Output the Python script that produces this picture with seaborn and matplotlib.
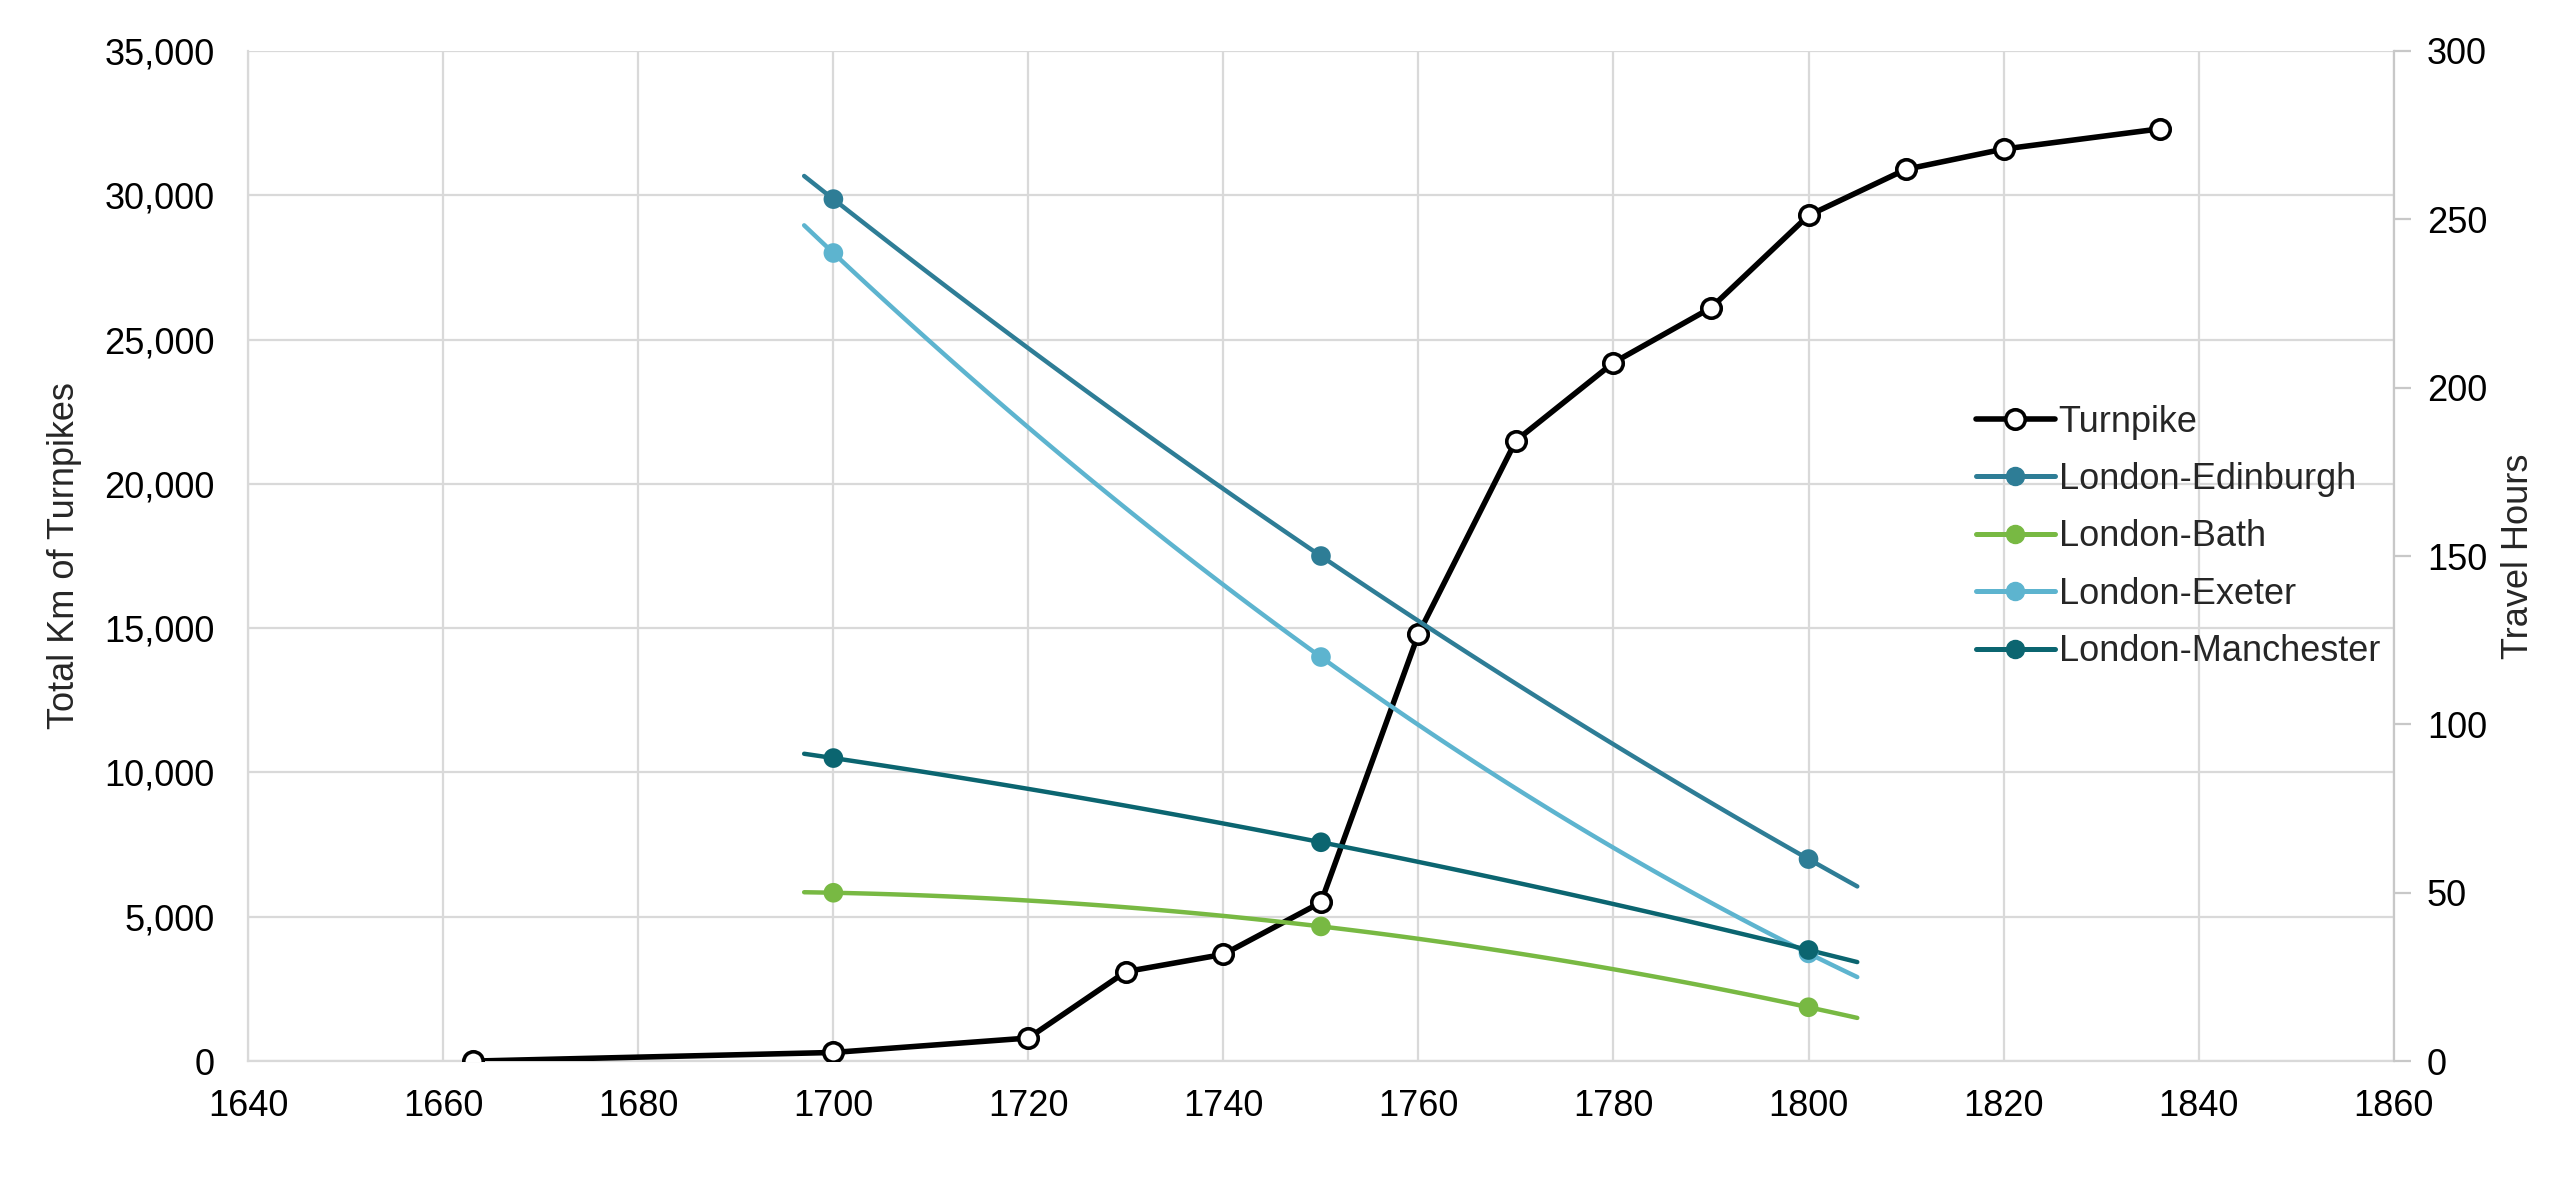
import numpy as np
import pandas as pd
import seaborn as sns
import matplotlib.pyplot as plt
from matplotlib.lines import Line2D
from matplotlib.ticker import FuncFormatter, MultipleLocator

# turnpike length (km)
turnpike_years = [1663, 1700, 1720, 1730, 1740, 1750, 1760, 1770, 1780, 1790, 1800, 1810, 1820, 1836]
turnpike_km = [0, 300, 800, 3100, 3700, 5500, 14800, 21500, 24200, 26100, 29300, 30900, 31600, 32300]

# travel hours from London
route_years = [1700, 1750, 1800]
edinburgh_hours = [256, 150, 60]
bath_hours = [50, 40, 16]
exeter_hours = [240, 120, 32]
manchester_hours = [90, 65, 33]

route_names = ["London-Edinburgh", "London-Bath", "London-Exeter", "London-Manchester"]
route_colors = ["#2E7D96", "#78B943", "#5DB4CF", "#0B6570"]

sns.set_theme(style="whitegrid")
plt.rcParams["font.family"] = ["Liberation Sans", "DejaVu Sans"]

fig, ax = plt.subplots(figsize=(25.6, 11.99), dpi=100)
fig.subplots_adjust(left=0.097, right=0.935, top=0.9575, bottom=0.115)
ax2 = ax.twinx()

grid_col = "#D9D9D9"

# turnpike line
tp = pd.DataFrame({"Year": turnpike_years, "Km": turnpike_km})
sns.lineplot(data=tp, x="Year", y="Km", ax=ax, color="black", linewidth=4,
             marker="o", markersize=14, markerfacecolor="white",
             markeredgecolor="black", markeredgewidth=2.6, zorder=5)

# travel hours: points + quadratic trend lines (1697-1805)
series = [edinburgh_hours, bath_hours, exeter_hours, manchester_hours]
handles = [Line2D([], [], color="black", lw=4, marker="o", markersize=14,
                  markerfacecolor="white", markeredgecolor="black", markeredgewidth=2.6)]
for name, hrs, col in zip(route_names, series, route_colors):
    coef = np.polyfit(route_years, hrs, 2)
    xs = np.linspace(1697, 1805, 120)
    trend = pd.DataFrame({"Year": xs, "Hours": np.polyval(coef, xs)})
    sns.lineplot(data=trend, x="Year", y="Hours", ax=ax2, color=col, linewidth=3.2)
    pts = pd.DataFrame({"Year": route_years, "Hours": hrs})
    sns.scatterplot(data=pts, x="Year", y="Hours", ax=ax2, color=col, s=200,
                    edgecolor="none", zorder=4)
    handles.append(Line2D([], [], color=col, lw=3.6, marker="o", markersize=13,
                          markeredgecolor=col))

ax.set_xlim(1640, 1860)
ax.set_ylim(0, 35000)
ax2.set_ylim(0, 300)
ax.xaxis.set_major_locator(MultipleLocator(20))
ax.yaxis.set_major_locator(MultipleLocator(5000))
ax2.yaxis.set_major_locator(MultipleLocator(50))
ax.yaxis.set_major_formatter(FuncFormatter(lambda v, p: f"{int(v):,}"))

ax.grid(True, color=grid_col, linewidth=1.6)
ax2.grid(False)
ax.set_axisbelow(True)

for a in (ax, ax2):
    for s in a.spines.values():
        s.set_visible(False)
ax.spines["left"].set_visible(True)
ax.spines["left"].set_color(grid_col)
ax.spines["left"].set_linewidth(1.6)
ax.spines["bottom"].set_visible(True)
ax.spines["bottom"].set_color(grid_col)
ax.spines["bottom"].set_linewidth(1.6)
ax2.spines["right"].set_visible(True)
ax2.spines["right"].set_color("#C8C8C8")
ax2.spines["right"].set_linewidth(1.6)

ax.tick_params(axis="both", labelsize=26, colors="black", length=0)
ax.tick_params(axis="x", pad=20)
ax.tick_params(axis="y", pad=24)
ax2.tick_params(axis="y", labelsize=26, colors="black", length=12, width=1.6,
                direction="out", pad=12)
ax2.tick_params(axis="y", color="#C8C8C8")

ax.set_xlabel("")
ax.set_ylabel("Total Km of Turnpikes", fontsize=26, labelpad=16)
ax2.set_ylabel("Travel Hours", fontsize=26, labelpad=10)

ax.legend(handles, ["Turnpike"] + route_names, loc="upper left",
          bbox_to_anchor=(0.79, 0.682), frameon=False, fontsize=26,
          handlelength=2.2, handletextpad=0.1, labelspacing=0.62)

fig.savefig("out.png", dpi=100, facecolor="white")
